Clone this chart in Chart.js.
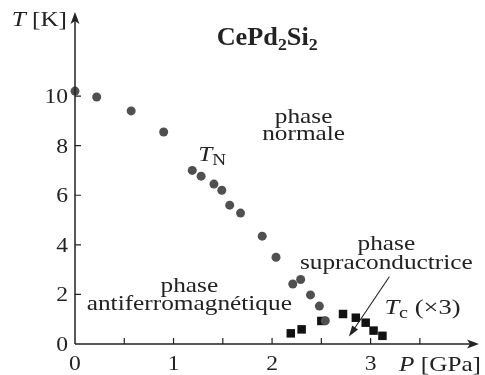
<!DOCTYPE html>
<html>
<head>
<meta charset="utf-8">
<script src="https://cdn.jsdelivr.net/npm/chart.js@4.4.1/dist/chart.umd.min.js"></script>
<style>
  html, body { margin: 0; padding: 0; background: #fff; }
  #wrap { width: 485px; height: 375px; }
</style>
</head>
<body>
<div id="wrap"><canvas id="c"></canvas></div>
<script>
// Néel temperature T_N (circles), pressure in GPa, temperature in K
const tnPressure = [0, 0.22, 0.57, 0.9, 1.19, 1.28, 1.41, 1.49, 1.57, 1.68, 1.9, 2.04, 2.21, 2.29, 2.39, 2.48, 2.54];
const tnTemp     = [10.2, 9.96, 9.4, 8.55, 7.0, 6.77, 6.45, 6.2, 5.6, 5.28, 4.35, 3.5, 2.42, 2.6, 1.98, 1.53, 0.94];
// superconducting T_c x3 (squares)
const tcPressure = [2.19, 2.30, 2.50, 2.72, 2.85, 2.95, 3.03, 3.12];
const tcTemp     = [0.43, 0.59, 0.93, 1.21, 1.06, 0.86, 0.54, 0.33];

const xTicks = [0, 1, 2, 3];
const xMinorTicks = [0.5, 1.5, 2.5, 3.5];
const yTicks = [0, 2, 4, 6, 8, 10];

const SERIF = '"Liberation Serif", "DejaVu Serif", serif';
const INK = '#222';

function toPoints(xs, ys) {
  return xs.map(function(x, i) { return {x: x, y: ys[i]}; });
}

// draw a run of text pieces (normal / italic / subscript), stretched horizontally by sx
function drawRich(ctx, parts, x, y, align, sx) {
  sx = sx || 1;
  let total = 0;
  parts.forEach(function(p) {
    ctx.font = p.font;
    total += ctx.measureText(p.t).width * sx;
  });
  let cx = x;
  if (align === 'center') cx = x - total / 2;
  if (align === 'right') cx = x - total;
  ctx.textAlign = 'left';
  ctx.textBaseline = 'alphabetic';
  parts.forEach(function(p) {
    ctx.font = p.font;
    ctx.save();
    ctx.translate(cx, y + (p.dy || 0));
    ctx.scale(sx, 1);
    ctx.fillText(p.t, 0, 0);
    ctx.restore();
    cx += ctx.measureText(p.t).width * sx;
  });
}

const axesPlugin = {
  id: 'axesPlugin',
  afterDatasetsDraw(chart) {
    const ctx = chart.ctx;
    const xs = chart.scales.x, ys = chart.scales.y;
    const x0 = xs.getPixelForValue(0), y0 = ys.getPixelForValue(0);
    const right = chart.chartArea.right, top = chart.chartArea.top;
    ctx.save();
    ctx.strokeStyle = INK;
    ctx.fillStyle = INK;
    ctx.lineWidth = 1.5;

    // axis lines
    ctx.beginPath();
    ctx.moveTo(x0, y0); ctx.lineTo(right - 4, y0);
    ctx.moveTo(x0, y0); ctx.lineTo(x0, top + 4);
    ctx.stroke();
    // arrow heads
    ctx.beginPath();
    ctx.moveTo(right, y0); ctx.lineTo(right - 12, y0 - 4.5); ctx.lineTo(right - 9, y0); ctx.lineTo(right - 12, y0 + 4.5);
    ctx.closePath(); ctx.fill();
    ctx.beginPath();
    ctx.moveTo(x0, top); ctx.lineTo(x0 - 4.5, top + 12); ctx.lineTo(x0, top + 9); ctx.lineTo(x0 + 4.5, top + 12);
    ctx.closePath(); ctx.fill();

    // ticks (inside)
    ctx.lineWidth = 1.2;
    ctx.beginPath();
    xTicks.concat(xMinorTicks).forEach(function(v) {
      if (v === 0) return;
      const px = xs.getPixelForValue(v);
      ctx.moveTo(px, y0); ctx.lineTo(px, y0 - 6);
    });
    yTicks.forEach(function(v) {
      if (v === 0) return;
      const py = ys.getPixelForValue(v);
      ctx.moveTo(x0, py); ctx.lineTo(x0 + 6, py);
    });
    ctx.stroke();

    // tick labels
    const tk = '20px ' + SERIF;
    xTicks.forEach(function(v) {
      drawRich(ctx, [{t: String(v), font: tk}], xs.getPixelForValue(v), y0 + 26, 'center', 1.18);
    });
    yTicks.forEach(function(v) {
      drawRich(ctx, [{t: String(v), font: tk}], x0 - 7, ys.getPixelForValue(v) + 7, 'right', 1.18);
    });

    // axis titles
    const it = 'italic 21px ' + SERIF, rm = '21px ' + SERIF;
    drawRich(ctx, [{t: 'T', font: it}, {t: ' [K]', font: rm}], x0 - 8, top + 14, 'right', 1.2);
    drawRich(ctx, [{t: 'P', font: it}, {t: ' [GPa]', font: rm}], right + 2, y0 + 27, 'right', 1.2);

    // title
    const bd = 'bold 25px ' + SERIF, bs = 'bold 17px ' + SERIF;
    drawRich(ctx, [{t: 'CePd', font: bd}, {t: '2', font: bs, dy: 5}, {t: 'Si', font: bd}, {t: '2', font: bs, dy: 5}],
      xs.getPixelForValue(1.95), ys.getPixelForValue(12.06), 'center', 1.05);

    // phase labels
    const lb = '22px ' + SERIF;
    function label(lines, px, py, gap) {
      lines.forEach(function(s, i) {
        drawRich(ctx, [{t: s, font: lb}], xs.getPixelForValue(px), ys.getPixelForValue(py) + i * gap, 'center', 1.15);
      });
    }
    label(['phase', 'normale'], 2.32, 8.91, 17);
    label(['phase', 'antiferromagnétique'], 1.16, 2.10, 18);
    label(['phase', 'supraconductrice'], 3.16, 3.79, 19);

    // T_N and T_c labels
    drawRich(ctx, [{t: 'T', font: it}, {t: 'N', font: '16px ' + SERIF, dy: 4}],
      xs.getPixelForValue(1.25), ys.getPixelForValue(7.38), 'left', 1.2);
    drawRich(ctx, [{t: 'T', font: it}, {t: 'c', font: '16px ' + SERIF, dy: 4}, {t: ' (×3)', font: rm}],
      xs.getPixelForValue(3.14), ys.getPixelForValue(1.21), 'left', 1.26);

    // arrow to the superconducting dome
    const ax1 = xs.getPixelForValue(3.19), ay1 = ys.getPixelForValue(2.71);
    const ax2 = xs.getPixelForValue(2.78), ay2 = ys.getPixelForValue(0.30);
    const ang = Math.atan2(ay2 - ay1, ax2 - ax1);
    ctx.lineWidth = 1.1;
    ctx.beginPath();
    ctx.moveTo(ax1, ay1);
    ctx.lineTo(ax2 - 8 * Math.cos(ang), ay2 - 8 * Math.sin(ang));
    ctx.stroke();
    ctx.beginPath();
    ctx.moveTo(ax2, ay2);
    ctx.lineTo(ax2 - 11 * Math.cos(ang) + 3.5 * Math.sin(ang), ay2 - 11 * Math.sin(ang) - 3.5 * Math.cos(ang));
    ctx.lineTo(ax2 - 11 * Math.cos(ang) - 3.5 * Math.sin(ang), ay2 - 11 * Math.sin(ang) + 3.5 * Math.cos(ang));
    ctx.closePath(); ctx.fill();

    ctx.restore();
  }
};

new Chart(document.getElementById('c'), {
  type: 'scatter',
  data: {
    datasets: [
      {
        label: 'T_N',
        data: toPoints(tnPressure, tnTemp),
        pointStyle: 'circle',
        pointRadius: 4.5,
        backgroundColor: '#505050',
        borderWidth: 0,
        clip: false
      },
      {
        label: 'T_c',
        data: toPoints(tcPressure, tcTemp),
        pointStyle: 'rect',
        pointRadius: 6,
        backgroundColor: '#111',
        borderWidth: 0,
        clip: false
      }
    ]
  },
  options: {
    responsive: true,
    maintainAspectRatio: false,
    animation: false,
    layout: { padding: { left: 75, right: 0, top: 12, bottom: 31 } },
    plugins: { legend: { display: false }, tooltip: { enabled: false } },
    scales: {
      x: { type: 'linear', min: 0, max: 4.1, display: false },
      y: { type: 'linear', min: 0, max: 13.39, display: false }
    }
  },
  plugins: [axesPlugin]
});
</script>
</body>
</html>
